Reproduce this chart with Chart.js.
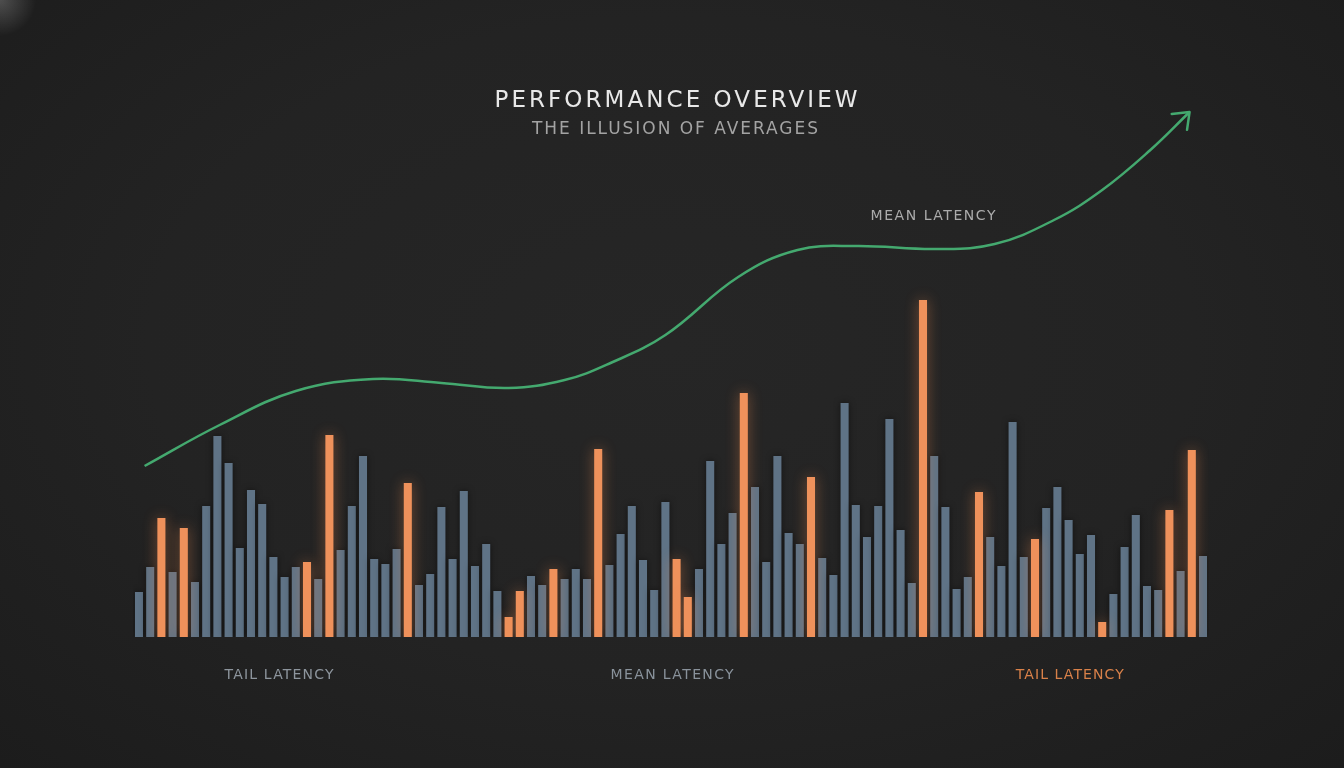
<!DOCTYPE html>
<html>
<head>
<meta charset="utf-8">
<script src="https://cdn.jsdelivr.net/npm/chart.js@4.4.1/dist/chart.umd.min.js"></script>
<style>
  html, body { margin: 0; padding: 0; }
  body {
    width: 1344px; height: 768px; overflow: hidden;
    background:
      radial-gradient(circle at 0 0, rgba(255,255,255,0.22), rgba(255,255,255,0) 36px),
      radial-gradient(ellipse at 50% 45%, #262626 0%, #232323 55%, #1c1c1c 100%);
  }
  #wrap { position: relative; width: 1344px; height: 768px; }
</style>
</head>
<body>
<div id="wrap"><canvas id="perfChart"></canvas></div>
<script>
// per-request latency (ms), one bar per request
const latency = [
  45, 70, 119, 65, 109, 55, 131, 201, 174, 89, 147, 133, 80, 60, 70, 75,
  58, 202, 87, 131, 181, 78, 73, 88, 154, 52, 63, 130, 78, 146, 71, 93,
  46, 20, 46, 61, 52, 68, 58, 68, 58, 188, 72, 103, 131, 77, 47, 135,
  78, 40, 68, 176, 93, 124, 244, 150, 75, 181, 104, 93, 160, 79, 62, 234,
  132, 100, 131, 218, 107, 54, 337, 181, 130, 48, 60, 145, 100, 71, 215, 80,
  98, 129, 150, 117, 83, 102, 15, 43, 90, 122, 51, 47, 127, 66, 187, 81
];
// requests flagged as tail latency (orange)
const tailIdx = [2, 4, 15, 17, 24, 33, 34, 37, 41, 48, 49, 54, 60, 70, 75, 80, 86, 92, 94];
// mean latency trend: request index -> ms
const meanX = [0.5, 7.2, 14.0, 20.9, 27.0, 33.0, 38.0, 42.1, 47.0, 53.5, 58.8, 64.1, 71.2, 76.4, 81.7, 86.0, 90.3, 93.8];
const meanY = [171, 212, 246, 258, 254, 249, 257, 274, 302, 360, 387, 391, 388, 393, 417, 447, 487, 525];

const labels = latency.map((_, i) => "R" + (i + 1));
const normalData = latency.map((v, i) => tailIdx.includes(i) ? null : v);
const tailData = latency.map((v, i) => tailIdx.includes(i) ? v : null);
const meanPoints = meanX.map((x, i) => ({ x: x, y: meanY[i] }));

function spacedText(ctx, text, cx, cy, font, color, width) {
  ctx.save();
  ctx.font = font;
  ctx.fillStyle = color;
  ctx.textBaseline = "middle";
  ctx.textAlign = "left";
  ctx.letterSpacing = "0px";
  const w = ctx.measureText(text).width;
  const sp = (width - w) / (text.length - 1);
  ctx.letterSpacing = sp + "px";
  ctx.fillText(text, cx - width / 2, cy);
  ctx.restore();
}

const glowPlugin = {
  id: "glow",
  beforeDatasetDraw(chart, args) {
    const ctx = chart.ctx;
    ctx.save();
    if (args.index === 1) {
      ctx.shadowColor = "rgba(240,140,80,0.45)";
      ctx.shadowBlur = 14;
    } else if (args.index === 0) {
      ctx.shadowColor = "rgba(0,0,0,0.5)";
      ctx.shadowBlur = 6;
    }
  },
  afterDatasetDraw(chart) {
    chart.ctx.restore();
  }
};

const textPlugin = {
  id: "texts",
  afterDatasetsDraw(chart) {
    const ctx = chart.ctx;
    const x2 = chart.scales.x2;
    const bottom = chart.chartArea.bottom;

    // arrow head on the mean line
    const pts = chart.getDatasetMeta(2).data;
    const a = pts[pts.length - 2], b = pts[pts.length - 1];
    const ang = Math.atan2(b.y - a.y, b.x - a.x);
    ctx.save();
    ctx.strokeStyle = "#44a96f";
    ctx.lineWidth = 2.5;
    ctx.lineCap = "round";
    ctx.beginPath();
    [0.66, -0.66].forEach(d => {
      ctx.moveTo(b.x, b.y);
      ctx.lineTo(b.x - 18 * Math.cos(ang + d), b.y - 18 * Math.sin(ang + d));
    });
    ctx.stroke();
    ctx.restore();

    const f = "'DejaVu Sans', sans-serif";
    spacedText(ctx, "PERFORMANCE OVERVIEW", 676, 101, "400 23px " + f, "#e8e8e8", 363);
    spacedText(ctx, "THE ILLUSION OF AVERAGES", 675, 130, "400 17px " + f, "#a3a3a3", 286);
    spacedText(ctx, "MEAN LATENCY", 933, 216, "400 14px " + f, "#ababab", 125);
    spacedText(ctx, "TAIL LATENCY", x2.getPixelForValue(12.5), bottom + 38, "400 14px " + f, "#8d959d", 109);
    spacedText(ctx, "MEAN LATENCY", x2.getPixelForValue(47.6), bottom + 38, "400 14px " + f, "#89929b", 123);
    spacedText(ctx, "TAIL LATENCY", x2.getPixelForValue(83.1), bottom + 38, "400 14px " + f, "#d98149", 108);
  }
};

const ctx = document.getElementById("perfChart").getContext("2d");
new Chart(ctx, {
  type: "bar",
  data: {
    labels: labels,
    datasets: [
      {
        label: "Latency",
        data: normalData,
        backgroundColor: "#5f7386",
        grouped: false,
        categoryPercentage: 1,
        barPercentage: 0.72,
        order: 2
      },
      {
        label: "Tail latency",
        data: tailData,
        backgroundColor: "#ef915b",
        grouped: false,
        categoryPercentage: 1,
        barPercentage: 0.72,
        order: 1
      },
      {
        type: "line",
        label: "Mean latency",
        data: meanPoints,
        xAxisID: "x2",
        borderColor: "#44a96f",
        borderWidth: 2.5,
        pointRadius: 0,
        tension: 0.4,
        clip: false,
        order: 0
      }
    ]
  },
  options: {
    responsive: true,
    maintainAspectRatio: false,
    animation: false,
    layout: {
      padding: { top: 150, left: 133.4, right: 135.4, bottom: 131 }
    },
    scales: {
      x: { display: false },
      x2: { type: "linear", display: false, offset: false, min: -0.5, max: 95.5 },
      y: { display: false, min: 0, max: 487 }
    },
    plugins: {
      legend: { display: false },
      tooltip: { enabled: false }
    }
  },
  plugins: [glowPlugin, textPlugin]
});
</script>
</body>
</html>
